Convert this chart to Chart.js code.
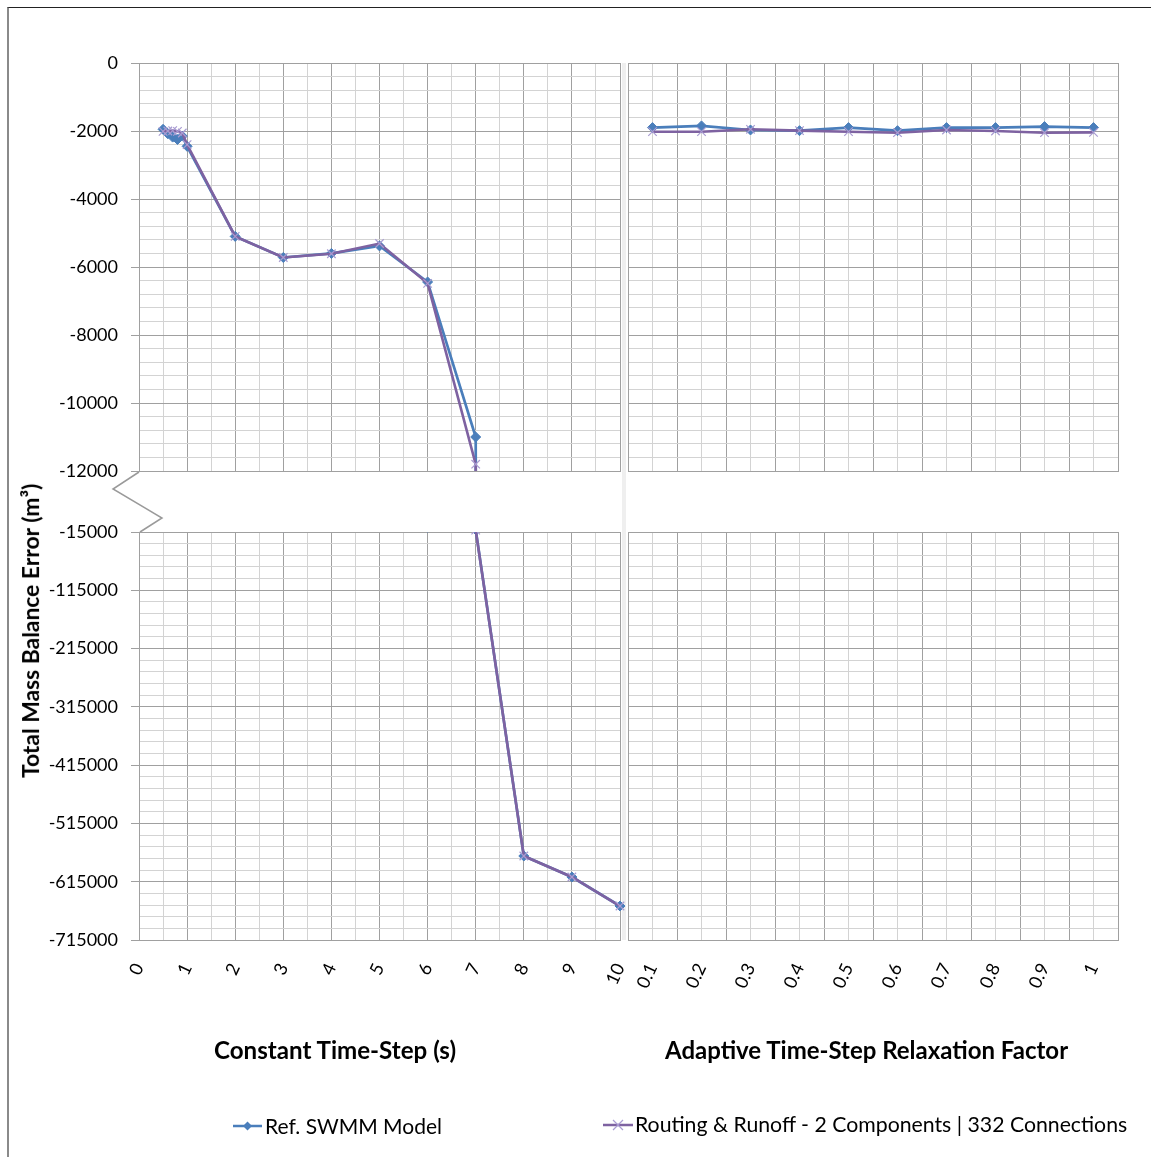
<!DOCTYPE html>
<html>
<head>
<meta charset="utf-8">
<script src="https://cdn.jsdelivr.net/npm/chart.js@4.4.1/dist/chart.umd.min.js"></script>
<style>
html,body{margin:0;padding:0;background:#fff;}
#wrap{position:relative;width:1151px;height:1157px;overflow:hidden;background:#fff;}
canvas.c{position:absolute;left:0;top:0;}
#frame{position:absolute;left:7px;top:7px;width:1160px;height:1170px;border-top:1.5px solid #222;border-left:2px solid #8a8a8a;}
#band{position:absolute;left:622px;top:63px;width:4px;height:877px;background:#efefef;}
.t{position:absolute;white-space:nowrap;color:#000;font-family:Lato,sans-serif;line-height:1;}
</style>
</head>
<body>
<div id="wrap">
  <div id="frame"></div>
  <div id="band"></div>
  <svg style="position:absolute;left:0;top:0" width="1151" height="1157">
    <polyline points="139,472 113,489 162,518 140,532" fill="none" stroke="#9a9a9a" stroke-width="1.5"/>
    <line x1="233" y1="1126" x2="262" y2="1126" stroke="#4a7ebb" stroke-width="2.5"/>
    <polygon points="247.5,1121.5 252,1126 247.5,1130.5 243,1126" fill="#4a7ebb"/>
    <line x1="603" y1="1125" x2="633" y2="1125" stroke="#7e62a1" stroke-width="2.5"/>
    <path d="M613,1120 L623,1130 M613,1130 L623,1120" stroke="#a99cd2" stroke-width="1.2"/>
  </svg>
  <canvas id="tl" class="c" width="1151" height="1157"></canvas>
  <canvas id="bl" class="c" width="1151" height="1157"></canvas>
  <canvas id="tr" class="c" width="1151" height="1157"></canvas>
  <canvas id="br" class="c" width="1151" height="1157"></canvas>
  <div class="t" id="xt1" style="font-weight:700">Constant Time-Step (s)</div>
  <div class="t" id="xt2" style="font-weight:700">Adaptive Time-Step Relaxation Factor</div>
  <div class="t" id="yt" style="font-weight:700">Total Mass Balance Error (m³)</div>
  <div class="t" id="lg1">Ref. SWMM Model</div>
  <div class="t" id="lg2">Routing &amp; Runoff - 2 Components | 332 Connections</div>
</div>
<script>
// ---------- data ----------
const constantSteps   = [0.5, 0.6, 0.7, 0.8, 0.9, 1, 2, 3, 4, 5, 6, 7, 8, 9, 10];
const refSwmmConstant = [-1950, -2080, -2180, -2250, -2150, -2450, -5100, -5720, -5600, -5380, -6440, -11000, -570900, -606900, -656700];
const routingConstant = [-2010, -2000, -1990, -2010, -2060, -2400, -5100, -5720, -5610, -5310, -6480, -11800, -570900, -606900, -656700];
const relaxFactors    = [0.1, 0.2, 0.3, 0.4, 0.5, 0.6, 0.7, 0.8, 0.9, 1];
const refSwmmAdaptive = [-1900, -1850, -1970, -1990, -1900, -1990, -1900, -1900, -1870, -1900];
const routingAdaptive = [-2020, -2020, -1950, -1990, -2020, -2050, -1970, -2000, -2050, -2040];
const yTopTickLabels    = [0, -2000, -4000, -6000, -8000, -10000, -12000];
const yBottomTickLabels = [-15000, -115000, -215000, -315000, -415000, -515000, -615000, -715000];
const xConstantTickLabels = [0, 1, 2, 3, 4, 5, 6, 7, 8, 9, 10];
const xAdaptiveTickLabels = relaxFactors;
const seriesNames = ['Ref. SWMM Model', 'Routing & Runoff - 2 Components | 332 Connections'];

// ---------- styling ----------
const BLUE = '#4a7ebb', PURPLE = '#7e62a1', XCOL = '#a99cd2';
const MAJOR = '#a0a0a0', MINOR = '#d3d3d3';
const near = (a, b) => Math.abs(a - b) < 1e-6;
const inList = (list, v) => list.some(m => near(m, v));
const W = 1151, H = 1157;
const PANEL = {lx0: 139, lx1: 620, rx0: 628, rx1: 1118, ty0: 63, ty1: 471, by0: 532, by1: 940};
const XAXIS_H = 60;

function datasets(xs, ref, rout) {
  const clip = {left: 8, right: 8, top: 0, bottom: 0};
  return [
    {label: seriesNames[0], data: xs.map((x, i) => ({x, y: ref[i]})),
     borderColor: BLUE, backgroundColor: BLUE, borderWidth: 2.7, tension: 0,
     pointStyle: 'rectRot', pointRadius: 5, pointBorderWidth: 1, pointBackgroundColor: BLUE, pointBorderColor: BLUE,
     order: 1, clip},
    {label: seriesNames[1], data: xs.map((x, i) => ({x, y: rout[i]})),
     borderColor: PURPLE, backgroundColor: PURPLE, borderWidth: 2.6, tension: 0,
     pointStyle: 'crossRot', pointRadius: 6, pointBorderWidth: 1.2, pointBorderColor: XCOL,
     order: 0, clip}
  ];
}

function yScale(min, max, step, labels, isMajor, showLabels) {
  return {
    type: 'linear', min, max,
    afterFit: s => { s.width = showLabels ? PANEL.lx0 : 0; s.paddingTop = 0; s.paddingBottom = 0; },
    border: {display: true, color: MAJOR, width: 1},
    grid: {
      color: c => isMajor(c.tick.value) ? MAJOR : MINOR, lineWidth: 1,
      drawTicks: showLabels, tickLength: 8,
      tickColor: c => isMajor(c.tick.value) ? MAJOR : 'rgba(0,0,0,0)'
    },
    ticks: {
      display: showLabels, stepSize: step, autoSkip: false, padding: 13,
      color: '#000', font: {family: 'Lato', size: 18},
      callback: v => inList(labels, v) ? String(Math.round(v)) : ''
    }
  };
}

function xScale(min, max, step, labels, isMajor, showLabels, fmt) {
  return {
    type: 'linear', min, max,
    afterFit: s => { s.height = showLabels ? XAXIS_H : 0; s.paddingLeft = 0; s.paddingRight = 0; },
    border: {display: true, color: MAJOR, width: 1},
    grid: {color: c => isMajor(c.tick.value) ? MAJOR : MINOR, lineWidth: 1, drawTicks: false},
    ticks: {
      display: showLabels, stepSize: step, autoSkip: false, padding: 20,
      minRotation: 65, maxRotation: 65,
      color: '#000', font: {family: 'Lato', size: 18},
      callback: v => inList(labels, v) ? fmt(v) : ''
    }
  };
}

const topMajor = v => inList(yTopTickLabels, v);
const botMajor = v => inList(yBottomTickLabels, v);
const leftMajor = v => near(v, Math.round(v));
const rightMajor = v => near((v - 0.05) * 10, Math.round((v - 0.05) * 10));
const fmtInt = v => String(Math.round(v));
const fmtDec = v => String(Math.round(v * 10) / 10);

function makeChart(id, isLeft, isBottom) {
  const xs = isLeft ? constantSteps : relaxFactors;
  const ref = isLeft ? refSwmmConstant : refSwmmAdaptive;
  const rout = isLeft ? routingConstant : routingAdaptive;
  const padding = {
    left: isLeft ? 0 : PANEL.rx0,
    right: W - (isLeft ? PANEL.lx1 : PANEL.rx1),
    top: isBottom ? PANEL.by0 : PANEL.ty0,
    bottom: isBottom ? H - PANEL.by1 - XAXIS_H : H - PANEL.ty1
  };
  const x = isLeft
    ? xScale(0, 10, 0.5, xConstantTickLabels, leftMajor, isBottom, fmtInt)
    : xScale(0.05, 1.05, 0.05, xAdaptiveTickLabels, rightMajor, isBottom, fmtDec);
  const y = isBottom
    ? yScale(-715000, -15000, 20000, yBottomTickLabels, botMajor, isLeft)
    : yScale(-12000, 0, 400, yTopTickLabels, topMajor, isLeft);
  return new Chart(document.getElementById(id), {
    type: 'line',
    data: {datasets: datasets(xs, ref, rout)},
    options: {
      responsive: false, animation: false, events: [],
      layout: {padding},
      plugins: {legend: {display: false}, tooltip: {enabled: false}},
      scales: {x, y}
    }
  });
}

makeChart('tl', true, false);
makeChart('bl', true, true);
makeChart('tr', false, false);
makeChart('br', false, true);

// ---------- HTML text placement ----------
const mctx = document.createElement('canvas').getContext('2d');
function place(id, left, cy, targetW, weight, rotate) {
  const el = document.getElementById(id);
  mctx.font = weight + ' 100px Lato';
  const w100 = mctx.measureText(el.textContent).width;
  const fs = 100 * targetW / w100;
  el.style.fontSize = fs + 'px';
  if (!rotate) {
    el.style.left = left + 'px';
    el.style.top = (cy - 0.53 * fs) + 'px';
  } else {
    el.style.left = (left - targetW / 2) + 'px';
    el.style.top = (cy - fs / 2) + 'px';
    el.style.width = targetW + 'px';
    el.style.transform = 'rotate(-90deg)';
    el.style.transformOrigin = '50% 50%';
  }
}
place('xt1', 214, 1051, 243, 700);
place('xt2', 665, 1051, 404, 700);
place('yt', 30, 630, 295, 700, true);
place('lg1', 265, 1126, 177, 400);
place('lg2', 635, 1125, 493, 400);
</script>
</body>
</html>
